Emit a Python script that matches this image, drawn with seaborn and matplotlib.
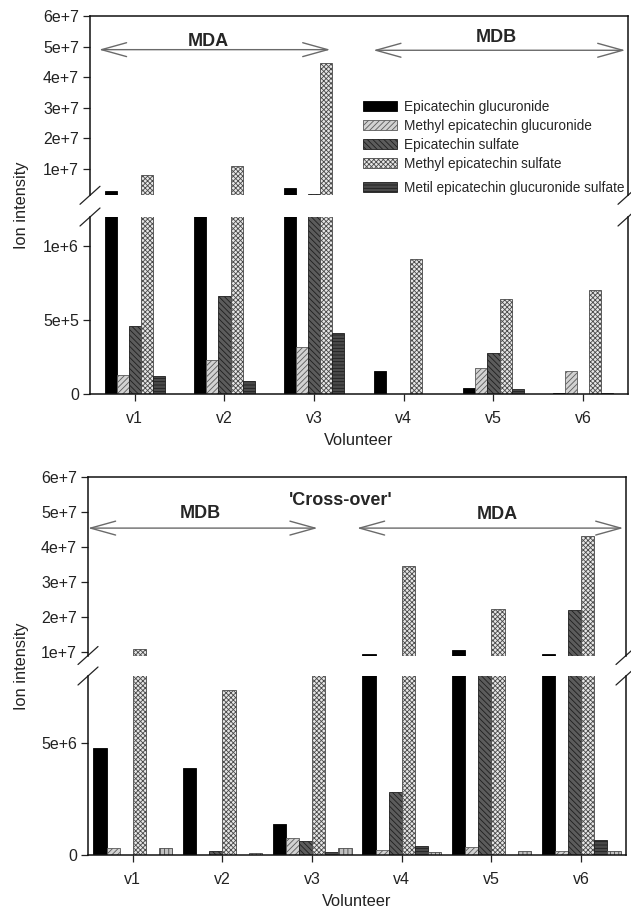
import numpy as np
import pandas as pd
import matplotlib
matplotlib.use("Agg")
import matplotlib.pyplot as plt
from matplotlib.patches import Patch, FancyArrowPatch
import seaborn as sns

# ---------------------------------------------------------------- data
volunteers = ["v1", "v2", "v3", "v4", "v5", "v6"]
compounds = [
    "Epicatechin glucuronide",
    "Methyl epicatechin glucuronide",
    "Epicatechin sulfate",
    "Methyl epicatechin sulfate",
    "Metil epicatechin glucuronide sulfate",
]
extra_compound = "Unassigned conjugate"

# first intake (v1-v3 MDA, v4-v6 MDB)
first_epi_gluc = [2.8e6, 1.3e6, 3.8e6, 1.55e5, 4.0e4, 5.0e3]
first_me_gluc = [1.3e5, 2.3e5, 3.2e5, 0.0, 1.75e5, 1.55e5]
first_epi_sulf = [4.6e5, 6.6e5, 1.7e6, 0.0, 2.8e5, 0.0]
first_me_sulf = [8.0e6, 1.1e7, 4.46e7, 9.1e5, 6.45e5, 7.0e5]
first_me_gluc_sulf = [1.2e5, 0.9e5, 4.1e5, 0.0, 3.5e4, 5.0e3]

# cross-over intake (v1-v3 MDB, v4-v6 MDA)
cross_epi_gluc = [4.78e6, 3.88e6, 1.38e6, 9.4e6, 1.06e7, 9.4e6]
cross_me_gluc = [3.1e5, 0.0, 7.6e5, 2.2e5, 3.5e5, 1.8e5]
cross_epi_sulf = [0.0, 1.8e5, 6.3e5, 2.8e6, 8.5e6, 2.2e7]
cross_me_sulf = [1.09e7, 7.37e6, 8.5e6, 3.46e7, 2.23e7, 4.31e7]
cross_me_gluc_sulf = [0.0, 0.0, 1.3e5, 4.0e5, 0.0, 6.7e5]
cross_extra = [3.1e5, 0.9e5, 3.3e5, 1.3e5, 1.8e5, 1.8e5]

upper_ticks = [1e7, 2e7, 3e7, 4e7, 5e7, 6e7]
upper_labels = ["1e+7", "2e+7", "3e+7", "4e+7", "5e+7", "6e+7"]
first_lower_ticks = [0, 5e5, 1e6]
first_lower_labels = ["0", "5e+5", "1e+6"]
cross_lower_ticks = [0, 5e6]
cross_lower_labels = ["0", "5e+6"]


def long_table(series, names):
    rows = []
    for name, vals in zip(names, series):
        for v, val in zip(volunteers, vals):
            rows.append({"Volunteer": v, "Compound": name, "Ion intensity": val})
    return pd.DataFrame(rows)


first_df = long_table(
    [first_epi_gluc, first_me_gluc, first_epi_sulf, first_me_sulf, first_me_gluc_sulf],
    compounds,
)
cross_names = compounds + [extra_compound]
cross_df = long_table(
    [cross_epi_gluc, cross_me_gluc, cross_epi_sulf, cross_me_sulf,
     cross_me_gluc_sulf, cross_extra],
    cross_names,
)

# ---------------------------------------------------------------- style
sns.set_theme(style="ticks")
plt.rcParams["font.family"] = ["Liberation Sans", "DejaVu Sans"]
plt.rcParams["hatch.linewidth"] = 0.6

STYLES = {
    compounds[0]: dict(fc="#000000", ec="#000000", hatch=""),
    compounds[1]: dict(fc="#d2d2d2", ec="#5a5a5a", hatch="//////"),
    compounds[2]: dict(fc="#5c5c5c", ec="#1e1e1e", hatch="\\\\\\\\\\\\"),
    compounds[3]: dict(fc="#e6e6e6", ec="#4a4a4a", hatch="xxxxxxx"),
    compounds[4]: dict(fc="#4a4a4a", ec="#1e1e1e", hatch="-----"),
    extra_compound: dict(fc="#c0c0c0", ec="#4a4a4a", hatch="||||"),
}

W, H = 631, 915
fig = plt.figure(figsize=(W / 100, H / 100), dpi=100)


def add_axes_px(left, right, top, bottom):
    return fig.add_axes([left / W, 1 - bottom / H, (right - left) / W, (bottom - top) / H])


def draw_bars(ax, df, order, width):
    sns.barplot(data=df, x="Volunteer", y="Ion intensity", hue="Compound",
                order=volunteers, hue_order=order, width=width, errorbar=None,
                legend=False, saturation=1, ax=ax)
    for cont, name in zip(ax.containers, order):
        st = STYLES[name]
        for bar in cont:
            bar.set_facecolor(st["fc"])
            bar.set_edgecolor(st["ec"])
            bar.set_hatch(st["hatch"])
            bar.set_linewidth(0.6)
    ax.set_xlim(-0.5, 5.5)


def style_upper(ax, ylim):
    ax.set_ylim(*ylim)
    ax.set_yticks(upper_ticks)
    ax.set_yticklabels(upper_labels)
    ax.spines["bottom"].set_visible(False)
    ax.tick_params(axis="x", bottom=False, labelbottom=False)
    ax.set_xlabel("")
    ax.set_ylabel("")
    for s in ("left", "top", "right"):
        ax.spines[s].set_linewidth(1.1)
        ax.spines[s].set_color("#111111")
    ax.tick_params(axis="y", length=5, width=0.9, pad=3, labelsize=11.5, colors="#222222")


def style_lower(ax, ylim, ticks, labels):
    ax.set_ylim(*ylim)
    ax.set_yticks(ticks)
    ax.set_yticklabels(labels)
    ax.spines["top"].set_visible(False)
    for s in ("left", "bottom", "right"):
        ax.spines[s].set_linewidth(1.1)
        ax.spines[s].set_color("#111111")
    ax.tick_params(axis="both", length=5, width=0.9, labelsize=11.5, colors="#222222")
    ax.tick_params(axis="x", pad=7)
    ax.tick_params(axis="y", pad=3)
    ax.set_ylabel("")
    ax.set_xlabel("Volunteer", fontsize=11.8, labelpad=5, color="#222222")


def break_marks(ax, yaxes):
    # short slashes across the left and right spines at a scale break
    bb = ax.get_position()
    wpx, hpx = bb.width * W, bb.height * H
    dx, dy = 10 / wpx, 9 / hpx
    for x in (0, 1):
        ax.plot([x - dx, x + dx], [yaxes - dy, yaxes + dy], transform=ax.transAxes,
                color="#222222", lw=0.9, clip_on=False)


def span_arrow(ax, x0, x1, y):
    arr = FancyArrowPatch((x0, y), (x1, y), arrowstyle="<->,head_length=1.8,head_width=0.5",
                          mutation_scale=10, color="#6a6a6a", lw=1.0,
                          shrinkA=0, shrinkB=0)
    ax.add_patch(arr)


def legend_block(ax, names, top_px):
    handles = [Patch(facecolor=STYLES[c]["fc"], edgecolor=STYLES[c]["ec"],
                     hatch=STYLES[c]["hatch"], linewidth=0.6) for c in names]
    return ax.legend(handles, names, loc="upper left",
                     bbox_to_anchor=(363 / W, 1 - top_px / H), bbox_transform=fig.transFigure,
                     frameon=False, fontsize=9.8, handlelength=2.5, handleheight=0.75,
                     handletextpad=0.5, labelspacing=0.36, borderpad=0, borderaxespad=0)


# ---------------------------------------------------------------- first intake
ax1u = add_axes_px(90, 628, 16, 195.3)
ax1l = add_axes_px(90, 628, 217, 394)
for ax in (ax1u, ax1l):
    draw_bars(ax, first_df, compounds, 0.67)
style_upper(ax1u, (1.4e6, 6e7))
style_lower(ax1l, (0, 1.196e6), first_lower_ticks, first_lower_labels)
break_marks(ax1u, 0)
break_marks(ax1l, 1)

span_arrow(ax1u, -0.4, 2.18, 4.9e7)
span_arrow(ax1u, 2.66, 5.47, 4.88e7)
ax1u.text(0.82, 5.16e7, "MDA", ha="center", va="center", fontsize=13, fontweight="bold")
ax1u.text(4.03, 5.3e7, "MDB", ha="center", va="center", fontsize=13, fontweight="bold")

leg_main = legend_block(ax1u, compounds[:4], 100)
ax1u.add_artist(leg_main)
legend_block(ax1u, compounds[4:], 181)

# ---------------------------------------------------------------- cross-over
ax2u = add_axes_px(88, 626, 477, 655.5)
ax2l = add_axes_px(88, 626, 676, 855)
for ax in (ax2u, ax2l):
    draw_bars(ax, cross_df, cross_names, 0.88)
style_upper(ax2u, (9e6, 6e7))
style_lower(ax2l, (0, 7.99e6), cross_lower_ticks, cross_lower_labels)
break_marks(ax2u, 0)
break_marks(ax2l, 1)

span_arrow(ax2u, -0.5, 2.06, 4.54e7)
span_arrow(ax2u, 2.5, 5.47, 4.54e7)
ax2u.text(2.32, 5.34e7, "'Cross-over'", ha="center", va="center", fontsize=13, fontweight="bold")
ax2u.text(0.75, 4.97e7, "MDB", ha="center", va="center", fontsize=13, fontweight="bold")
ax2u.text(4.06, 4.94e7, "MDA", ha="center", va="center", fontsize=13, fontweight="bold")

# shared y labels
fig.text(22 / W, 1 - 205 / H, "Ion intensity", rotation=90, ha="center", va="center",
         fontsize=11.8, color="#222222")
fig.text(22 / W, 1 - 666 / H, "Ion intensity", rotation=90, ha="center", va="center",
         fontsize=11.8, color="#222222")

fig.savefig("out.png", dpi=100, facecolor="white")
